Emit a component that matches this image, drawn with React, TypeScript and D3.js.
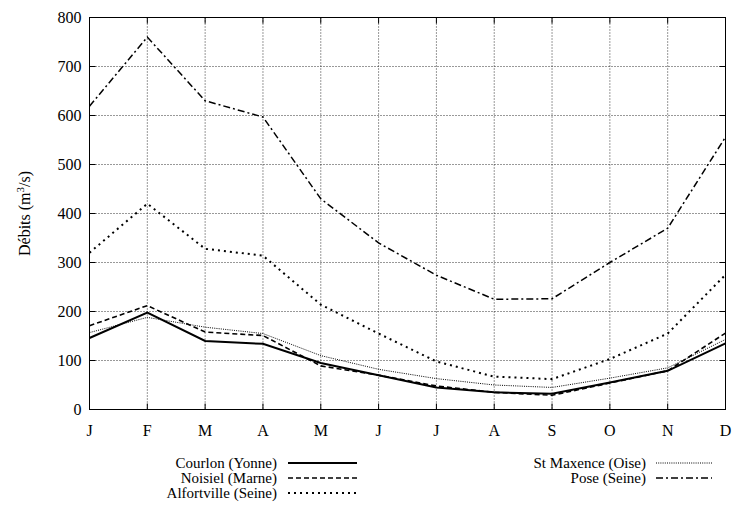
import React from "react";
import * as d3 from "d3";

const months = ["J", "F", "M", "A", "M", "J", "J", "A", "S", "O", "N", "D"];
const yTicks = [0, 100, 200, 300, 400, 500, 600, 700, 800];

const courlon = [146, 198, 140, 134, 95, 70, 45, 35, 32, 55, 79, 135];
const noisiel = [171, 212, 158, 151, 89, 70, 48, 35, 29, 54, 79, 156];
const alfortville = [320, 420, 328, 314, 214, 155, 98, 67, 62, 103, 155, 275];
const stMaxence = [157, 188, 168, 155, 110, 82, 63, 50, 45, 64, 85, 143];
const pose = [619, 760, 630, 597, 430, 340, 274, 225, 226, 300, 370, 556];

const seriesNames = [
  "Courlon (Yonne)",
  "Noisiel (Marne)",
  "Alfortville (Seine)",
  "St Maxence (Oise)",
  "Pose (Seine)",
];
const seriesData = [courlon, noisiel, alfortville, stMaxence, pose];
const seriesStyle = [
  { dash: "none", w: 2 },
  { dash: "5,3", w: 1.6 },
  { dash: "2,4", w: 2 },
  { dash: "1,1.2", w: 1 },
  { dash: "7,3,2,3", w: 1.5 },
];

export default function App() {
  const W = 732;
  const H = 524;
  const left = 89.5;
  const right = 725.5;
  const top = 17.5;
  const bottom = 409.5;

  const x = d3.scaleLinear().domain([0, months.length - 1]).range([left, right]);
  const y = d3.scaleLinear().domain([0, 800]).range([bottom, top]);
  const line = d3
    .line<number>()
    .x((_, i) => x(i))
    .y((d) => y(d));

  const font = "'Liberation Serif', 'DejaVu Serif', serif";
  const tick = 6;
  const fs = 15;

  const legendPos = [
    { tx: 277, ly: 463, lx1: 288, lx2: 357 },
    { tx: 277, ly: 478, lx1: 288, lx2: 357 },
    { tx: 277, ly: 493, lx1: 288, lx2: 357 },
    { tx: 646, ly: 463, lx1: 656, lx2: 712 },
    { tx: 646, ly: 478, lx1: 656, lx2: 712 },
  ];

  return (
    <svg
      width={W}
      height={H}
      fontFamily={font}
      style={{ position: "absolute", left: 0, top: 0, background: "#fff" }}
    >
      <rect x={0} y={0} width={W} height={H} fill="#fff" />
      {yTicks.slice(1, -1).map((t) => (
        <line
          key={"gy" + t}
          x1={left}
          x2={right}
          y1={y(t)}
          y2={y(t)}
          stroke="#000"
          strokeWidth={1}
          strokeDasharray="1,2"
          opacity={0.8}
        />
      ))}
      {months.slice(1, -1).map((m, i) => (
        <line
          key={"gx" + i}
          x1={x(i + 1)}
          x2={x(i + 1)}
          y1={top}
          y2={bottom}
          stroke="#000"
          strokeWidth={1}
          strokeDasharray="1,2"
          opacity={0.8}
        />
      ))}
      {yTicks.map((t) => (
        <g key={"ty" + t}>
          <line x1={left} x2={left + tick} y1={y(t)} y2={y(t)} stroke="#000" />
          <line x1={right} x2={right - tick} y1={y(t)} y2={y(t)} stroke="#000" />
          <text
            x={left - 8}
            y={y(t)}
            dy="0.35em"
            textAnchor="end"
            fontSize={fs + 1}
            fontFamily={font}
          >
            {t}
          </text>
        </g>
      ))}
      {months.map((m, i) => (
        <g key={"tx" + i}>
          <line x1={x(i)} x2={x(i)} y1={bottom} y2={bottom - tick} stroke="#000" />
          <line x1={x(i)} x2={x(i)} y1={top} y2={top + tick} stroke="#000" />
          <text x={x(i)} y={436} textAnchor="middle" fontSize={fs + 1} fontFamily={font}>
            {m}
          </text>
        </g>
      ))}
      <rect
        x={left}
        y={top}
        width={right - left}
        height={bottom - top}
        fill="none"
        stroke="#000"
        strokeWidth={1}
      />
      {seriesData.map((d, k) => (
        <path
          key={"s" + k}
          d={line(d) || ""}
          fill="none"
          stroke="#000"
          strokeWidth={seriesStyle[k].w}
          strokeDasharray={seriesStyle[k].dash}
        />
      ))}
      <text
        transform={`translate(30,${(top + bottom) / 2}) rotate(-90)`}
        textAnchor="middle"
        fontSize={fs + 1}
        fontFamily={font}
      >
        Débits (m<tspan dy={-6} fontSize={11}>3</tspan>
        <tspan dy={6}>/s)</tspan>
      </text>
      {seriesNames.map((n, k) => (
        <g key={"l" + k}>
          <text
            x={legendPos[k].tx}
            y={legendPos[k].ly}
            dy="0.35em"
            textAnchor="end"
            fontSize={fs}
            fontFamily={font}
          >
            {n}
          </text>
          <line
            x1={legendPos[k].lx1}
            x2={legendPos[k].lx2}
            y1={legendPos[k].ly}
            y2={legendPos[k].ly}
            stroke="#000"
            strokeWidth={seriesStyle[k].w}
            strokeDasharray={seriesStyle[k].dash}
          />
        </g>
      ))}
    </svg>
  );
}
